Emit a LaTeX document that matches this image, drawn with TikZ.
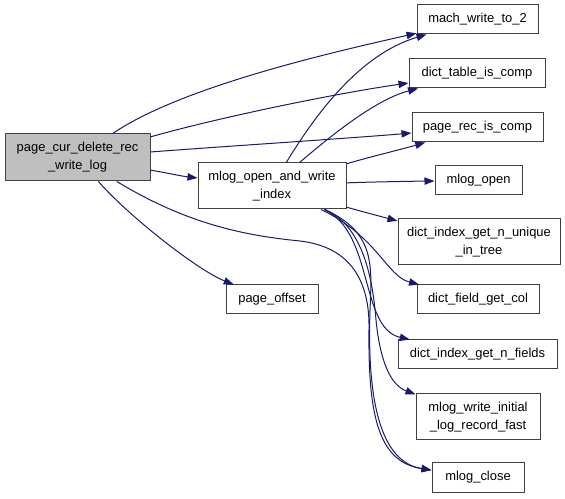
\documentclass[tikz,border=0pt]{standalone}
\usepackage{fontspec}
\setmainfont{Liberation Sans}
\usetikzlibrary{arrows.meta}

\definecolor{callblue}{HTML}{191970}
\definecolor{boxgrey}{HTML}{404040}
\definecolor{rootgrey}{HTML}{BFBFBF}

\tikzset{every picture/.style={line width=0.75pt}}
\tikzset{
  fnbox/.style={draw=boxgrey, fill=white, inner sep=0pt, align=center,
    minimum height=21.75pt, font=\fontsize{9.7}{13.5}\selectfont},
  twoline/.style={minimum height=34.5pt},
  rootbox/.style={fnbox, twoline, fill=rootgrey, minimum height=35.25pt},
  calls/.style={draw=callblue, -{Triangle[length=7.5pt,width=5.5pt]}},
}

\begin{document}
\begin{tikzpicture}[x=0.75pt,y=0.75pt,yscale=-1,xscale=1]
\useasboundingbox (0,0) rectangle (565,499);

%Shape: Rectangle (caller)
\node [rootbox, minimum width=108.75pt] (cdrwl) at (77.5,157.5) {page\_cur\_delete\_rec\\\_write\_log};
%Shape: Rectangle
\node [fnbox, twoline, minimum width=111pt] (moawi) at (272,186) {mlog\_open\_and\_write\\\_index};
%Shape: Rectangle
\node [fnbox, minimum width=69pt] (poff) at (272,299.5) {page\_offset};
%Shape: Rectangle
\node [fnbox, minimum width=90.75pt] (mwt2) at (477.5,19.5) {mach\_write\_to\_2};
%Shape: Rectangle
\node [fnbox, minimum width=102pt] (dtic) at (477,73.5) {dict\_table\_is\_comp};
%Shape: Rectangle
\node [fnbox, minimum width=98.25pt] (pric) at (477.5,127.5) {page\_rec\_is\_comp};
%Shape: Rectangle
\node [fnbox, minimum width=65.25pt] (mopen) at (478.5,180.5) {mlog\_open};
%Shape: Rectangle
\node [fnbox, twoline, minimum width=121.5pt] (dignu) at (479,242) {dict\_index\_get\_n\_unique\\\_in\_tree};
%Shape: Rectangle
\node [fnbox, minimum width=91.5pt] (dfgc) at (478,299.5) {dict\_field\_get\_col};
%Shape: Rectangle
\node [fnbox, minimum width=119.25pt] (dignf) at (477.5,354.5) {dict\_index\_get\_n\_fields};
%Shape: Rectangle
\node [fnbox, twoline, minimum width=93pt] (mwilr) at (478,417) {mlog\_write\_initial\\\_log\_record\_fast};
%Shape: Rectangle
\node [fnbox, minimum width=69pt] (mclose) at (478,477.5) {mlog\_close};

%Curve Lines (from the caller)
\draw [calls] (cdrwl) .. controls (181,87) and (329,53) .. (mwt2);
\draw [calls] (cdrwl) .. controls (222.5,116.5) and (341,92.5) .. (dtic);
\draw [calls] (cdrwl) .. controls (222.5,146.5) and (346.5,138.5) .. (pric);
\draw [calls] (cdrwl) .. controls (164.5,172.5) and (183.2,176.4) .. (moawi);
\draw [calls] (cdrwl) .. controls (128.75,216.25) and (198,270.5) .. (poff);
\draw [calls] (cdrwl) .. controls (190,226) and (250,236) .. (300,241)
  .. controls (350,247) and (370,280) .. (369,330)
  .. controls (368,420) and (380,462) .. (mclose);

%Curve Lines (from mlog_open_and_write_index)
\draw [calls] (moawi) .. controls (314,117) and (358.5,54.5) .. (mwt2);
\draw [calls] (moawi) .. controls (326,140) and (374.4,99.6) .. (dtic);
\draw [calls] (moawi) .. controls (368,157.4) and (401.75,149.25) .. (pric);
\draw [calls] (moawi) .. controls (368,182) and (411.75,181.25) .. (mopen);
\draw [calls] (moawi) .. controls (360.8,211.2) and (381.8,216.8) .. (dignu);
\draw [calls] (moawi) .. controls (377.6,236.6) and (386.8,276.3) .. (dfgc);
\draw [calls] (moawi) .. controls (374,232) and (359.6,328.4) .. (dignf);
\draw [calls] (moawi) .. controls (360,225) and (372,270) .. (376,320)
  .. controls (380,360) and (390,385) .. (mwilr);
\draw [calls] (moawi) .. controls (375,232) and (372,265) .. (370,310)
  .. controls (367,400) and (380,462) .. (mclose);

\end{tikzpicture}
\end{document}
